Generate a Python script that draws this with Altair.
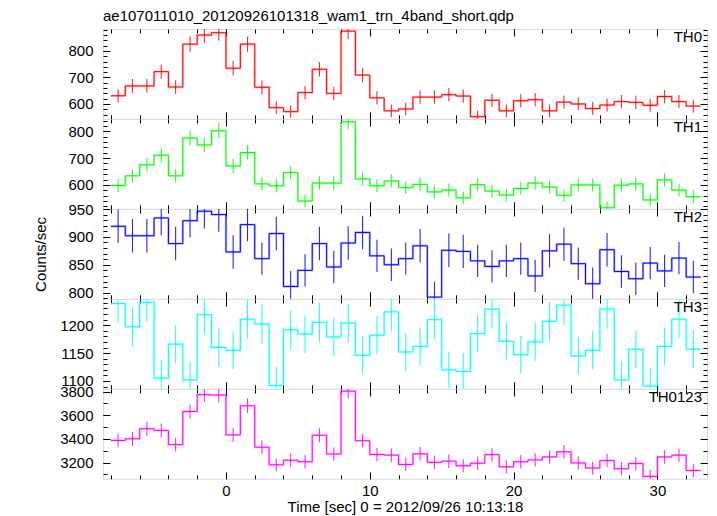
import altair as alt
import pandas as pd

TITLE = "ae107011010_20120926101318_wam1_trn_4band_short.qdp"
X_TITLE = "Time [sec] 0 = 2012/09/26 10:13:18"
Y_TITLE = "Counts/sec"
FONT = "Liberation Sans"

# 41 one-second time bins, starting at t = -8 s
BIN_START = list(range(-8, 33))
BIN_WIDTH = 1.0

TH0 = [631, 668, 668, 722, 664, 826, 860, 869, 735, 826, 663, 586, 571, 643, 731, 640, 875, 709, 623, 574, 581,
       626, 626, 635, 630, 552, 614, 574, 612, 616, 574, 607, 600, 583, 596, 609, 606, 595, 628, 609, 592]
TH0_ERR = [25, 26, 26, 27, 26, 29, 29, 29, 27, 29, 26, 24, 24, 25, 27, 25, 30, 27, 25, 24, 24,
           25, 25, 25, 25, 23, 25, 24, 25, 25, 24, 25, 24, 24, 24, 25, 25, 24, 25, 25, 24]

TH1 = [598, 634, 675, 711, 634, 775, 749, 802, 671, 721, 604, 597, 646, 540, 607, 607, 836, 622, 597, 615, 590,
       602, 574, 581, 552, 601, 577, 562, 587, 607, 592, 561, 600, 600, 515, 599, 604, 544, 619, 581, 556]
TH1_ERR = [24, 25, 26, 27, 25, 28, 27, 28, 26, 27, 25, 24, 25, 23, 25, 25, 29, 25, 24, 25, 24,
           25, 24, 24, 23, 25, 24, 24, 24, 25, 24, 24, 24, 24, 23, 24, 25, 23, 25, 24, 24]

TH2 = [919, 902, 902, 934, 888, 929, 946, 940, 873, 922, 861, 906, 811, 840, 888, 846, 889, 908, 866, 850, 861,
       884, 792, 876, 874, 857, 847, 857, 861, 830, 875, 887, 852, 816, 877, 838, 825, 853, 839, 862, 828]
TH2_ERR = [30, 30, 30, 31, 30, 30, 31, 31, 30, 30, 29, 30, 28, 29, 30, 29, 30, 30, 29, 29, 29,
           30, 28, 30, 30, 29, 29, 29, 29, 29, 30, 30, 29, 29, 30, 29, 29, 29, 29, 29, 29]

TH3 = [1239, 1197, 1241, 1105, 1166, 1102, 1219, 1160, 1155, 1211, 1202, 1092, 1192, 1184, 1205, 1179, 1204,
       1146, 1182, 1224, 1152, 1162, 1210, 1120, 1117, 1185, 1229, 1171, 1147, 1170, 1207, 1236, 1145, 1155,
       1229, 1102, 1157, 1091, 1162, 1211, 1157]
TH3_ERR = [35, 35, 35, 33, 34, 33, 35, 34, 34, 35, 35, 33, 35, 34, 35, 34, 35, 34, 34, 35, 34,
           34, 35, 33, 33, 34, 35, 34, 34, 34, 35, 35, 34, 34, 35, 33, 34, 33, 34, 35, 34]

TH0123 = [3387, 3401, 3486, 3472, 3352, 3632, 3774, 3771, 3434, 3680, 3330, 3181, 3220, 3207, 3431, 3272, 3804,
          3385, 3268, 3263, 3184, 3274, 3202, 3212, 3173, 3195, 3267, 3164, 3207, 3223, 3248, 3291, 3197, 3154,
          3217, 3148, 3192, 3083, 3248, 3263, 3133]
TH0123_ERR = [58, 58, 59, 59, 58, 60, 61, 61, 59, 61, 58, 56, 57, 57, 59, 57, 62, 58, 57, 57, 56,
              57, 57, 57, 56, 57, 57, 56, 57, 57, 57, 57, 57, 56, 57, 56, 56, 56, 57, 57, 56]

BANDS = ["TH0", "TH1", "TH2", "TH3", "TH0123"]
SERIES = [TH0, TH1, TH2, TH3, TH0123]
ERRORS = [TH0_ERR, TH1_ERR, TH2_ERR, TH3_ERR, TH0123_ERR]
COLORS = ["#ff0000", "#00ff00", "#0000ff", "#00ffff", "#ff00ff"]

Y_DOMAINS = [[544, 883], [511, 846], [789, 950], [1086, 1247], [3063, 3822]]
Y_MAJOR = [[600, 700, 800], [600, 700, 800], [800, 850, 900, 950], [1100, 1150, 1200], [3200, 3400, 3600, 3800]]
Y_MINOR = [list(range(560, 881, 20)), list(range(520, 841, 20)), list(range(790, 951, 10)),
           list(range(1090, 1241, 10)), list(range(3100, 3801, 100))]

X_DOMAIN = [-8.55, 33.45]
X_MAJOR = [0, 10, 20, 30]
X_MINOR = list(range(-8, 33, 2))

W = 604
H = 89.8
MAJ = 7
MIN = 4


def make_axis(orient, values, size, labels=False, title=None, extra=None):
    d = dict(orient=orient, values=values, tickSize=size, offset=-size, domain=False, grid=False,
             ticks=True, tickColor="#000000", tickWidth=1, labels=labels, title=title)
    if labels:
        d.update(labelFont=FONT, labelFontSize=15, labelColor="#000000", labelOverlap=False,
                 labelFlush=False, format="d")
    if extra:
        d.update(extra)
    return alt.Axis(**d)


panels = []
for i, band in enumerate(BANDS):
    vals = SERIES[i]
    errs = ERRORS[i]
    step_df = pd.DataFrame({
        "t": BIN_START + [BIN_START[-1] + BIN_WIDTH],
        "v": vals + [vals[-1]],
    })
    err_df = pd.DataFrame({
        "tc": [s + BIN_WIDTH / 2 for s in BIN_START],
        "lo": [v - e for v, e in zip(vals, errs)],
        "hi": [v + e for v, e in zip(vals, errs)],
    })
    xs = alt.Scale(domain=X_DOMAIN, nice=False, zero=False)
    ys = alt.Scale(domain=Y_DOMAINS[i], nice=False, zero=False)
    last = i == len(BANDS) - 1
    col = COLORS[i]

    x_main_extra = dict(labelPadding=5, titleFont=FONT, titleFontSize=15, titleFontWeight="normal",
                        titleColor="#000000", titlePadding=1) if last else None
    y_main_extra = dict(labelPadding=10)
    if i == 2:
        y_main_extra.update(titleFont=FONT, titleFontSize=15, titleFontWeight="normal", titleColor="#000000",
                            titleX=-70, titleY=H / 2, titleAngle=270, titleBaseline="middle",
                            titleAlign="center")

    halo = alt.Chart(step_df).mark_line(interpolate="step-after", color=col, strokeWidth=2.4,
                                        opacity=0.25, clip=True).encode(
        x=alt.X("t:Q", scale=xs, axis=None), y=alt.Y("v:Q", scale=ys, axis=None))

    line = alt.Chart(step_df).mark_line(interpolate="step-after", color=col, strokeWidth=1.0,
                                        clip=True).encode(
        x=alt.X("t:Q", scale=xs, axis=make_axis("bottom", X_MAJOR, MAJ, labels=last,
                                                  title=X_TITLE if last else None, extra=x_main_extra)),
        y=alt.Y("v:Q", scale=ys, axis=make_axis("left", Y_MAJOR[i], MAJ, labels=True,
                                                  title=Y_TITLE if i == 2 else None, extra=y_main_extra)))

    err = alt.Chart(err_df).mark_rule(color=col, strokeWidth=1.1, opacity=0.85, clip=True).encode(
        x=alt.X("tc:Q", scale=xs, axis=None),
        y=alt.Y("lo:Q", scale=ys, axis=None),
        y2="hi:Q")

    ax_layers = []
    for xa, ya in [
        (make_axis("bottom", X_MINOR, MIN), make_axis("left", Y_MINOR[i], MIN)),
        (make_axis("top", X_MAJOR, MAJ), make_axis("right", Y_MAJOR[i], MAJ)),
        (make_axis("top", X_MINOR, MIN), make_axis("right", Y_MINOR[i], MIN)),
    ]:
        ax_layers.append(alt.Chart(step_df).mark_point(opacity=0).encode(
            x=alt.X("t:Q", scale=xs, axis=xa), y=alt.Y("v:Q", scale=ys, axis=ya)))

    lab = alt.Chart(pd.DataFrame({"lab": [band]})).mark_text(
        align="right", baseline="middle", font=FONT, fontSize=15, color="#000000").encode(
        text="lab:N", x=alt.value(W - 5), y=alt.value(8))

    panel = alt.layer(halo, line, err, *ax_layers, lab).resolve_axis(x="independent", y="independent")
    props = dict(width=W, height=H)
    if i == 0:
        props["title"] = alt.TitleParams(text=TITLE, anchor="start", frame="group", font=FONT,
                                         fontSize=15, fontWeight="normal", color="#000000", offset=4)
    panel = panel.properties(**props)
    panels.append(panel)

chart = alt.vconcat(*panels, spacing=0, bounds="flush").properties(
    padding={"left": 24, "top": 0, "right": 0, "bottom": 0},
    background="white",
).configure_view(stroke="#000000", strokeWidth=1).configure(font=FONT)

chart.save("out.html", embed_options={"renderer": "svg", "actions": False})
